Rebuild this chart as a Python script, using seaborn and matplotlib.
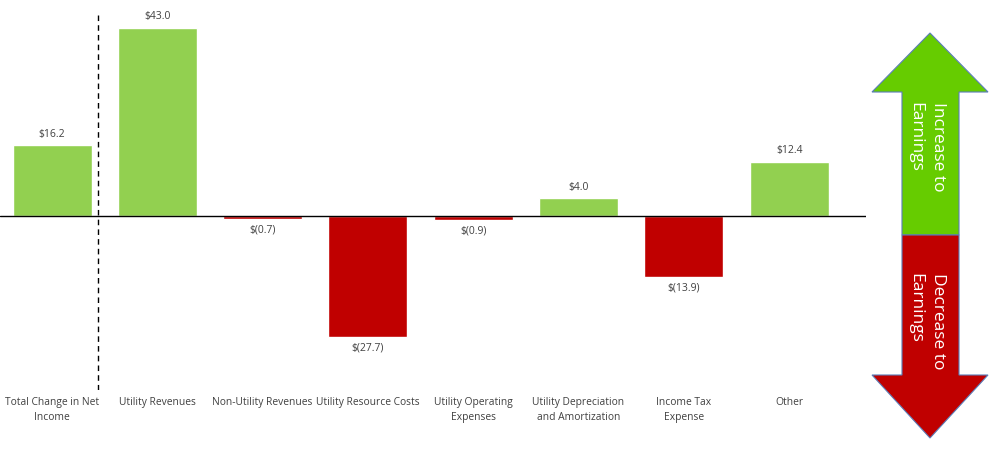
import matplotlib
matplotlib.use("Agg")
import matplotlib.pyplot as plt
from matplotlib.patches import Polygon
import seaborn as sns

# chart data
categories = ["Total Change in Net\nIncome", "Utility Revenues", "Non-Utility Revenues",
              "Utility Resource Costs", "Utility Operating\nExpenses",
              "Utility Depreciation\nand Amortization", "Income Tax\nExpense", "Other"]
values = [16.2, 43.0, -0.7, -27.7, -0.9, 4.0, -13.9, 12.4]
value_labels = ["$16.2", "$43.0", "$(0.7)", "$(27.7)", "$(0.9)", "$4.0", "$(13.9)", "$12.4"]

GREEN = "#92D050"
RED = "#C00000"
TEXT = "#404040"

sns.set_style("white")
plt.rcParams["font.family"] = ["Open Sans", "DejaVu Sans"]

W, H = 1001, 453
fig = plt.figure(figsize=(W / 100, H / 100), dpi=100)
ax = fig.add_axes([0, 1 - 390 / H, 866 / W, 390 / H])

colors = [GREEN if v >= 0 else RED for v in values]
sns.barplot(x=categories, y=values, hue=categories, palette=colors, legend=False,
            width=0.75, saturation=1, ax=ax)

for cont, lab in zip(ax.containers, value_labels):
    ax.bar_label(cont, labels=[lab], padding=4, fontsize=7.5, color=TEXT)

ax.axhline(0, color="black", lw=1)
ax.axvline(0.44, ymin=0, ymax=(390 - 13) / 390, color="black", lw=1, ls=(0, (4, 3)))

ax.set_xlim(-0.494, 7.73)
ax.set_ylim(-39.8, 49.4)
ax.set_yticks([])
ax.tick_params(axis="x", length=0, pad=5, labelsize=7.4, labelcolor=TEXT)
for t in ax.get_xticklabels():
    t.set_linespacing(1.5)
ax.set_xlabel("")
sns.despine(ax=ax, left=True, bottom=True)


# double arrow on the right, in pixel coordinates
def px(x, y):
    return (x / W, 1 - y / H)


up = [px(930, 33), px(988, 92), px(959, 92), px(959, 235), px(902, 235), px(902, 92), px(872, 92)]
down = [px(902, 235), px(959, 235), px(959, 375), px(988, 375), px(930, 438), px(872, 375), px(902, 375)]
fig.patches.append(Polygon(up, closed=True, transform=fig.transFigure, facecolor="#66CC00",
                           edgecolor="#5B7DB8", lw=0.8))
fig.patches.append(Polygon(down, closed=True, transform=fig.transFigure, facecolor="#C00000",
                           edgecolor="#5B7DB8", lw=0.8))
fig.text(*px(927, 147), "Increase to\nEarnings", rotation=270, ha="center", va="center",
         multialignment="left", color="white", fontsize=12.5, linespacing=1.55)
fig.text(*px(927, 321), "Decrease to\nEarnings", rotation=270, ha="center", va="center",
         multialignment="left", color="white", fontsize=12.5, linespacing=1.55)

fig.savefig("out.png", dpi=100)
